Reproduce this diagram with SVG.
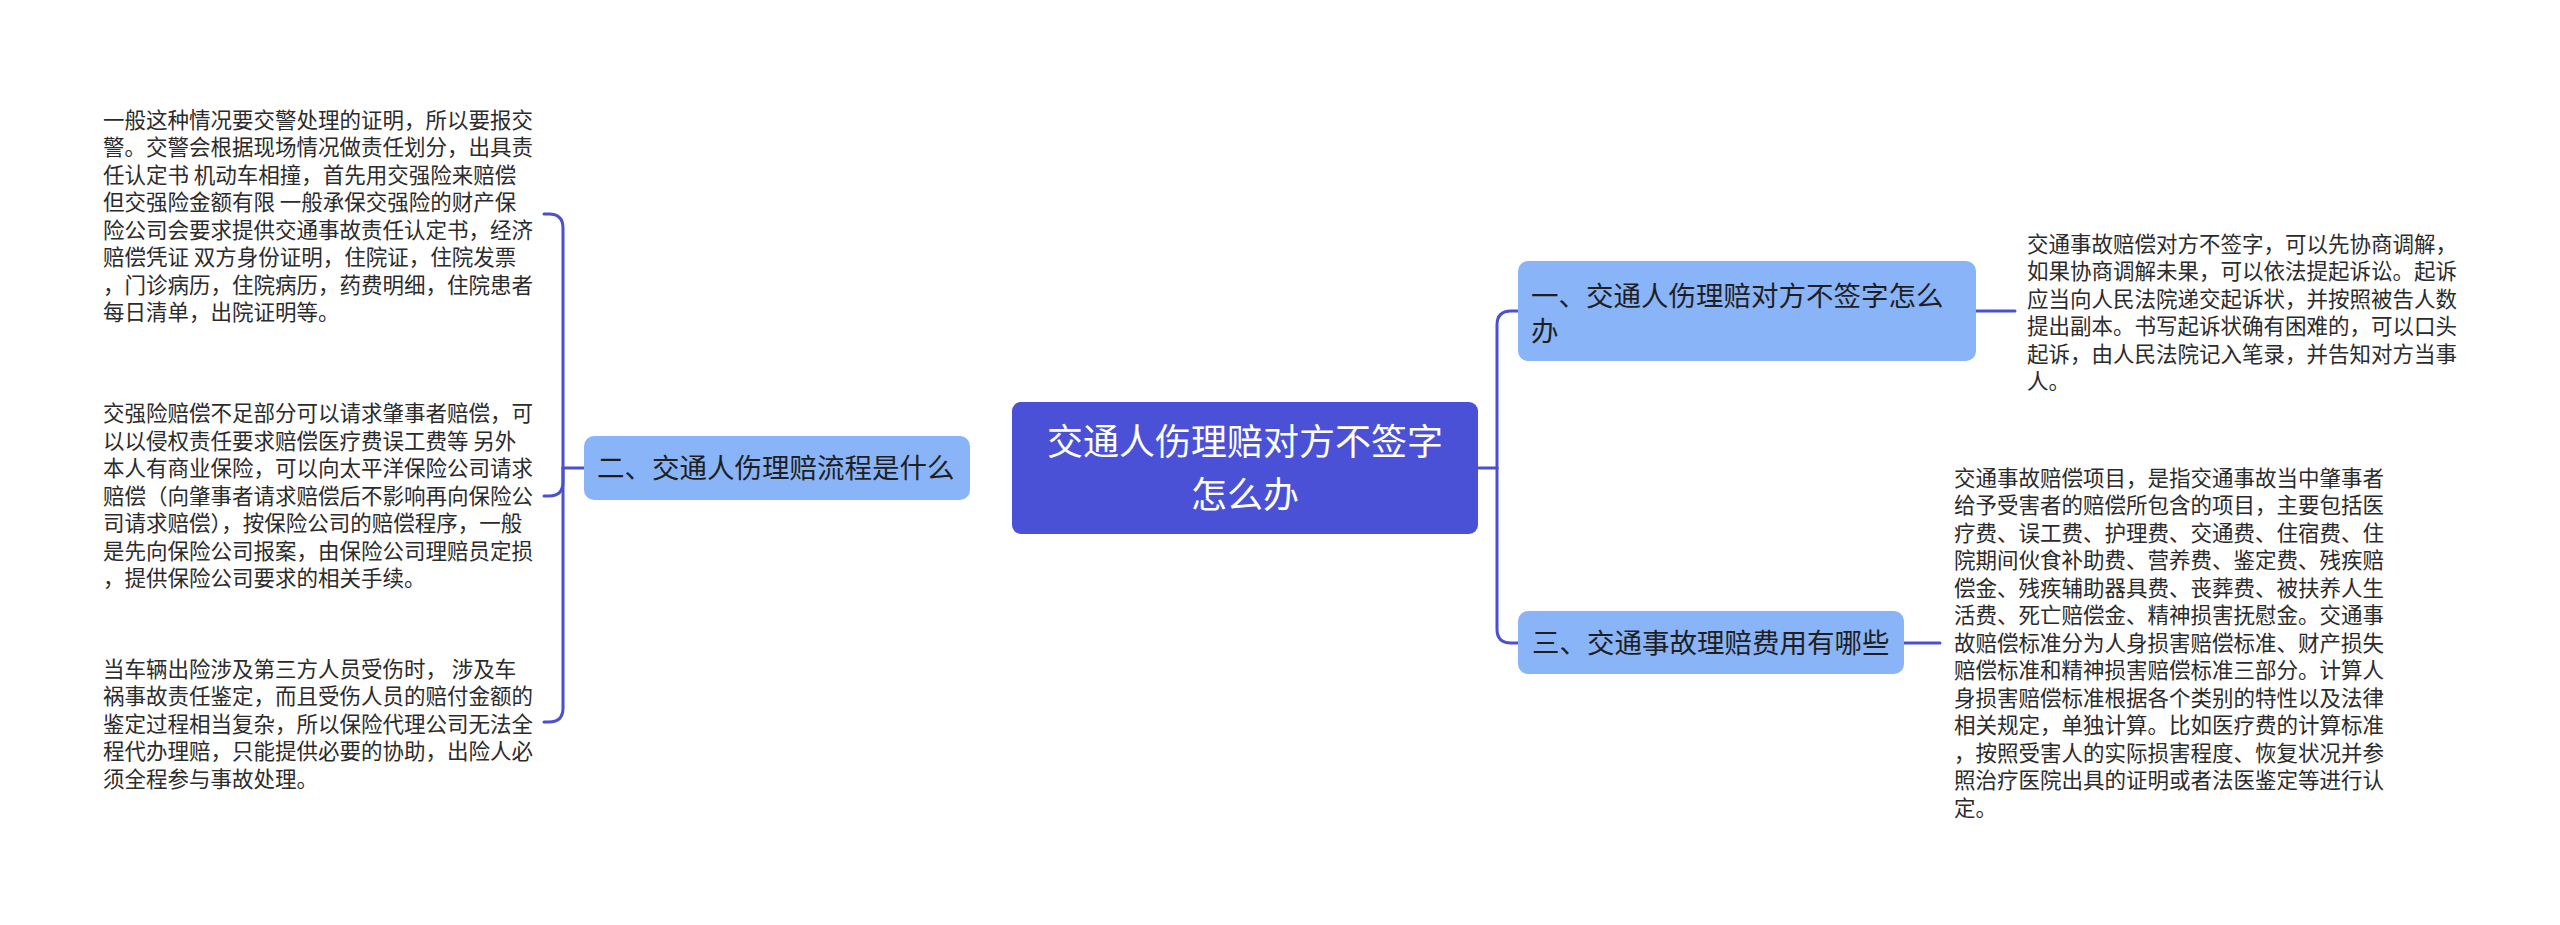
<svg xmlns="http://www.w3.org/2000/svg" width="2560" height="925" viewBox="0 0 2560 925">
<style>
.bg{fill:#ffffff}
.conn{fill:none;stroke:#4a50d0;stroke-width:3;stroke-linecap:round}
.root{fill:#4a51d7}
.sub{fill:#8ab4f8}
.rt{font-family:"Noto Sans CJK SC","Noto Sans",sans-serif;font-size:36px;fill:#ffffff;text-anchor:middle}
.st{font-family:"Noto Sans CJK SC","Noto Sans",sans-serif;font-size:27.5px;fill:#1f1f1f}
.bt{font-family:"Noto Sans CJK SC","Noto Sans",sans-serif;font-size:21.5px;fill:#2b2b2b}
</style>
<rect class="bg" x="0" y="0" width="2560" height="925"/>
<g id="connectors">
<path class="conn" d="M584 468 H563"/>
<path class="conn" d="M563 468 V228 Q563 214 549 214 H544"/>
<path class="conn" d="M563 468 V482 Q563 496 549 496 H544"/>
<path class="conn" d="M563 468 V708 Q563 722 549 722 H544"/>
<path class="conn" d="M1478 468 H1497"/>
<path class="conn" d="M1497 468 V325 Q1497 311 1511 311 H1518"/>
<path class="conn" d="M1497 468 V629 Q1497 643 1511 643 H1518"/>
<path class="conn" d="M1976 311 H2015"/>
<path class="conn" d="M1904 643 H1940"/>
</g>
<g id="root">
<rect class="root" x="1012" y="402" width="466" height="132" rx="9"/>
<text class="rt" x="1245" y="455">交通人伤理赔对方不签字</text>
<text class="rt" x="1245" y="507.5">怎么办</text>
</g>
<g id="node1">
<rect class="sub" x="1518" y="261" width="458" height="100" rx="10"/>
<text class="st" x="1531" y="305.6">一、交通人伤理赔对方不签字怎么</text>
<text class="st" x="1531" y="340.6">办</text>
</g>
<g id="node2">
<rect class="sub" x="584" y="436" width="386" height="64" rx="10"/>
<text class="st" x="597" y="477.6">二、交通人伤理赔流程是什么</text>
</g>
<g id="node3">
<rect class="sub" x="1518" y="611" width="386" height="63" rx="10"/>
<text class="st" x="1532" y="652.6">三、交通事故理赔费用有哪些</text>
</g>
<g id="text-a">
<text class="bt">
<tspan x="2027" y="251.8">交通事故赔偿对方不签字，可以先协商调解，</tspan>
<tspan x="2027" y="279.3">如果协商调解未果，可以依法提起诉讼。起诉</tspan>
<tspan x="2027" y="306.8">应当向人民法院递交起诉状，并按照被告人数</tspan>
<tspan x="2027" y="334.3">提出副本。书写起诉状确有困难的，可以口头</tspan>
<tspan x="2027" y="361.8">起诉，由人民法院记入笔录，并告知对方当事</tspan>
<tspan x="2027" y="389.3">人。</tspan>
</text>
</g>
<g id="text-b">
<text class="bt">
<tspan x="1954" y="485.5">交通事故赔偿项目，是指交通事故当中肇事者</tspan>
<tspan x="1954" y="513">给予受害者的赔偿所包含的项目，主要包括医</tspan>
<tspan x="1954" y="540.5">疗费、误工费、护理费、交通费、住宿费、住</tspan>
<tspan x="1954" y="568">院期间伙食补助费、营养费、鉴定费、残疾赔</tspan>
<tspan x="1954" y="595.5">偿金、残疾辅助器具费、丧葬费、被扶养人生</tspan>
<tspan x="1954" y="623">活费、死亡赔偿金、精神损害抚慰金。交通事</tspan>
<tspan x="1954" y="650.5">故赔偿标准分为人身损害赔偿标准、财产损失</tspan>
<tspan x="1954" y="678">赔偿标准和精神损害赔偿标准三部分。计算人</tspan>
<tspan x="1954" y="705.5">身损害赔偿标准根据各个类别的特性以及法律</tspan>
<tspan x="1954" y="733">相关规定，单独计算。比如医疗费的计算标准</tspan>
<tspan x="1954" y="760.5">，按照受害人的实际损害程度、恢复状况并参</tspan>
<tspan x="1954" y="788">照治疗医院出具的证明或者法医鉴定等进行认</tspan>
<tspan x="1954" y="815.5">定。</tspan>
</text>
</g>
<g id="text-1">
<text class="bt">
<tspan x="103" y="127.5">一般这种情况要交警处理的证明，所以要报交</tspan>
<tspan x="103" y="155">警。交警会根据现场情况做责任划分，出具责</tspan>
<tspan x="103" y="182.5">任认定书 机动车相撞，首先用交强险来赔偿</tspan>
<tspan x="103" y="210">但交强险金额有限 一般承保交强险的财产保</tspan>
<tspan x="103" y="237.5">险公司会要求提供交通事故责任认定书，经济</tspan>
<tspan x="103" y="265">赔偿凭证 双方身份证明，住院证，住院发票</tspan>
<tspan x="103" y="292.5">，门诊病历，住院病历，药费明细，住院患者</tspan>
<tspan x="103" y="320">每日清单，出院证明等。</tspan>
</text>
</g>
<g id="text-2">
<text class="bt">
<tspan x="103" y="421">交强险赔偿不足部分可以请求肇事者赔偿，可</tspan>
<tspan x="103" y="448.5">以以侵权责任要求赔偿医疗费误工费等 另外</tspan>
<tspan x="103" y="476">本人有商业保险，可以向太平洋保险公司请求</tspan>
<tspan x="103" y="503.5">赔偿（向肇事者请求赔偿后不影响再向保险公</tspan>
<tspan x="103" y="531">司请求赔偿），按保险公司的赔偿程序，一般</tspan>
<tspan x="103" y="558.5">是先向保险公司报案，由保险公司理赔员定损</tspan>
<tspan x="103" y="586">，提供保险公司要求的相关手续。</tspan>
</text>
</g>
<g id="text-3">
<text class="bt">
<tspan x="103" y="676.5">当车辆出险涉及第三方人员受伤时， 涉及车</tspan>
<tspan x="103" y="704">祸事故责任鉴定，而且受伤人员的赔付金额的</tspan>
<tspan x="103" y="731.5">鉴定过程相当复杂，所以保险代理公司无法全</tspan>
<tspan x="103" y="759">程代办理赔，只能提供必要的协助，出险人必</tspan>
<tspan x="103" y="786.5">须全程参与事故处理。</tspan>
</text>
</g>
</svg>
